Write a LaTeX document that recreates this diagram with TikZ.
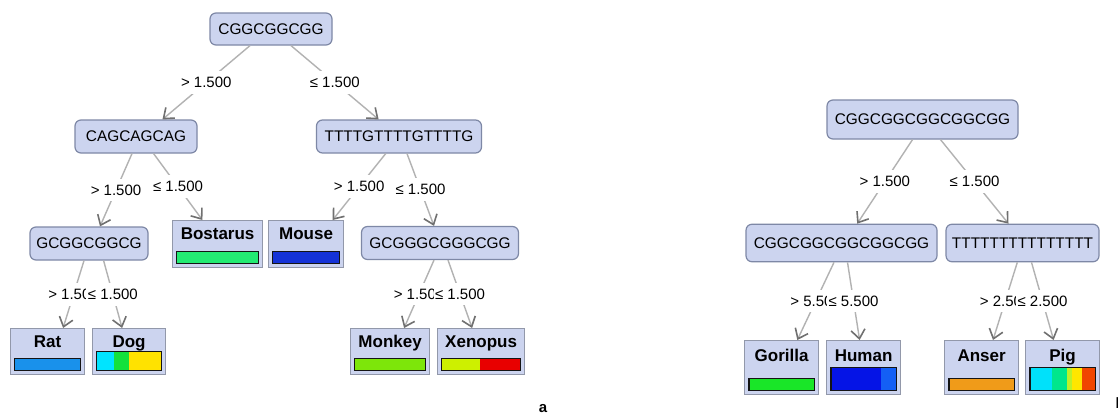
\documentclass[tikz,border=0pt]{standalone}
\usepackage{fontspec}
\setmainfont{Liberation Sans}
\usetikzlibrary{arrows.meta,calc}

\definecolor{nodefill}{RGB}{204,212,239}
\definecolor{nodeedge}{RGB}{126,136,166}
\definecolor{leafedge}{RGB}{146,152,170}
\definecolor{edgegray}{RGB}{178,178,178}
\definecolor{tipgray}{RGB}{112,112,112}
\definecolor{barline}{RGB}{20,20,20}
% bar colours
\definecolor{ratblue}{RGB}{25,145,235}
\definecolor{dogcyan}{RGB}{0,228,255}
\definecolor{doggreen}{RGB}{20,225,60}
\definecolor{dogyellow}{RGB}{255,226,0}
\definecolor{bosgreen}{RGB}{35,235,115}
\definecolor{mouseblue}{RGB}{20,50,215}
\definecolor{monkeygreen}{RGB}{125,230,10}
\definecolor{xenlime}{RGB}{205,240,0}
\definecolor{xenred}{RGB}{232,0,0}
\definecolor{gorillagreen}{RGB}{25,230,40}
\definecolor{humanblue}{RGB}{5,20,230}
\definecolor{humanlight}{RGB}{20,95,245}
\definecolor{anserorange}{RGB}{240,155,25}
\definecolor{pigcyan}{RGB}{0,225,250}
\definecolor{piggreen}{RGB}{0,230,140}
\definecolor{piglime}{RGB}{190,240,40}
\definecolor{pigyellow}{RGB}{255,230,0}
\definecolor{pigred}{RGB}{240,70,0}

\tikzset{
  seqnode/.style={draw=nodeedge, fill=nodefill, rounded corners=6pt, line width=1.2pt,
    inner sep=0pt, font=\fontsize{15.4}{16}\selectfont},
  leafnode/.style={draw=leafedge, fill=nodefill, line width=1.2pt, inner sep=0pt, anchor=north west},
  leafname/.style={font=\bfseries\fontsize{17}{18}\selectfont, inner sep=0pt, anchor=base},
  branch/.style={draw=edgegray, line width=1.4pt,
    -{Straight Barb[length=9pt,width=14pt,line width=1.6pt,color=tipgray]}},
  cond/.style={fill=white, inner xsep=1.5pt, inner ysep=6pt, font=\fontsize{15}{16}\selectfont},
  paneltag/.style={font=\bfseries\fontsize{15}{16}\selectfont, inner sep=0pt},
}

% leaf box: name, left x, top y, width, height, caption, baseline offset
\newcommand{\leafbox}[7]{%
  \node[leafnode, minimum width=#4pt, minimum height=#5pt] (#1) at (#2,#3) {};
  \node[leafname] at ($(#1.north)+(0,#7)$) {#6};
}
% colour bar at the bottom of a leaf: node, inset, bar height, segments from/to/colour
\newcommand{\leafbar}[4]{%
  \coordinate (#1-bl) at ($(#1.south west)+(#2,-#2)$);
  \coordinate (#1-br) at ($(#1.south east)+(-#2,-#2)$);
  \foreach \fa/\fb/\col in {#4}{
    \fill[\col] ($(#1-bl)!\fa!(#1-br)$) rectangle ($(#1-bl)!\fb!(#1-br)+(0,-#3)$);
  }
  \draw[line width=1.4pt, barline] (#1-bl) rectangle ($(#1-br)+(0,-#3)$);
}

\begin{document}
\begin{tikzpicture}[x=1pt, y=-1pt]
\useasboundingbox (0,0) rectangle (1118,415);
\clip (0,0) rectangle (1118,415);
\fill[white] (0,0) rectangle (1118,415);

% ---------- tree a ----------
\node[seqnode, minimum width=122pt, minimum height=32pt] (r1) at (271,29) {CGGCGGCGG};
\node[seqnode, minimum width=122pt, minimum height=33pt] (n1) at (136,136.5) {CAGCAGCAG};
\node[seqnode, minimum width=165pt, minimum height=33pt] (n2) at (399,136.5) {TTTTGTTTTGTTTTG};
\node[seqnode, minimum width=118pt, minimum height=33pt] (n3) at (89,243.5) {GCGGCGGCG};
\node[seqnode, minimum width=157pt, minimum height=33pt] (n4) at (440,243) {GCGGGCGGGCGG};

\leafbox{bos}{172}{220}{90}{47}{Bostarus}{19.5}
\leafbox{mouse}{268}{220}{75}{47}{Mouse}{19.5}
\leafbox{rat}{10}{328}{74}{46}{Rat}{19.5}
\leafbox{dog}{92}{328}{73}{46}{Dog}{19.5}
\leafbox{monkey}{350}{328}{79}{46}{Monkey}{19.5}
\leafbox{xen}{437}{328}{87}{46}{Xenopus}{19.5}

\leafbar{bos}{4.5}{12.3}{0/1/bosgreen}
\leafbar{mouse}{4.5}{12.3}{0/1/mouseblue}
\leafbar{rat}{4.5}{12.3}{0/1/ratblue}
\leafbar{dog}{4.5}{19.3}{0/0.27/dogcyan, 0.27/0.5/doggreen, 0.5/1/dogyellow}
\leafbar{monkey}{4.5}{12.3}{0/1/monkeygreen}
\leafbar{xen}{4.5}{12.3}{0/0.48/xenlime, 0.48/1/xenred}

\draw[branch] ([xshift=-21pt]r1.south) -- node[cond] {> 1.500} ([xshift=26.5pt]n1.north);
\draw[branch] ([xshift=20pt]r1.south) -- node[cond] {≤ 1.500} ([xshift=-20.4pt]n2.north);
\draw[branch] ([xshift=-4pt]n1.south) -- node[cond] {> 1.500} ([xshift=11pt]n3.north);
\draw[branch] ([xshift=17.6pt]n1.south) -- node[cond] {≤ 1.500} ([xshift=-15.2pt]bos.north);
\draw[branch] ([xshift=-13.3pt]n2.south) -- node[cond] {> 1.500} ([xshift=26.5pt]mouse.north);
\draw[branch] ([xshift=8pt]n2.south) -- node[cond] {≤ 1.500} ([xshift=-6pt]n4.north);
\draw[branch] ([xshift=-5pt]n3.south) -- node[cond] {> 1.500} ([xshift=15.5pt]rat.north);
\draw[branch] ([xshift=14.6pt]n3.south) -- node[cond] {≤ 1.500} ([xshift=-7pt]dog.north);
\draw[branch] ([xshift=-6pt]n4.south) -- node[cond] {> 1.500} ([xshift=14pt]monkey.north);
\draw[branch] ([xshift=8pt]n4.south) -- node[cond] {≤ 1.500} ([xshift=-9pt]xen.north);

\node[paneltag, anchor=base] (tagA) at (543,412) {a};

% ---------- tree b ----------
\node[seqnode, minimum width=191pt, minimum height=39pt] (r2) at (922.5,119.5) {CGGCGGCGGCGGCGG};
\node[seqnode, minimum width=191pt, minimum height=37.5pt] (n5) at (841.5,243) {CGGCGGCGGCGGCGG};
\node[seqnode, minimum width=153pt, minimum height=37.5pt] (n6) at (1022.5,243) {TTTTTTTTTTTTTTT};

\leafbox{gorilla}{744}{340}{74}{54}{Gorilla}{21}
\leafbox{human}{826}{340}{74}{54}{Human}{21}
\leafbox{anser}{944}{340}{74}{54}{Anser}{21}
\leafbox{pig}{1025}{340}{74}{54}{Pig}{21}

\leafbar{gorilla}{5}{11.7}{0/1/gorillagreen}
\leafbar{human}{5}{22.7}{0/0.77/humanblue, 0.77/1/humanlight}
\leafbar{anser}{5}{11.7}{0/1/anserorange}
\leafbar{pig}{5}{22.7}{0/0.33/pigcyan, 0.33/0.57/piggreen, 0.57/0.64/piglime, 0.64/0.8/pigyellow, 0.8/1/pigred}

\draw[branch] ([xshift=-10pt]r2.south) -- node[cond] {> 1.500} ([xshift=15.7pt]n5.north);
\draw[branch] ([xshift=18pt]r2.south) -- node[cond] {≤ 1.500} ([xshift=-14pt]n6.north);
\draw[branch] ([xshift=-7.5pt]n5.south) -- node[cond] {> 5.500} ([xshift=15.7pt]gorilla.north);
\draw[branch] ([xshift=6pt]n5.south) -- node[cond] {≤ 5.500} ([xshift=-4pt]human.north);
\draw[branch] ([xshift=-5.2pt]n6.south) -- node[cond] {> 2.500} ([xshift=11.4pt]anser.north);
\draw[branch] ([xshift=9pt]n6.south) -- node[cond] {≤ 2.500} ([xshift=-9pt]pig.north);

\node[paneltag, anchor=base west] (tagB) at (1115.5,408) {b};
\end{tikzpicture}
\end{document}
